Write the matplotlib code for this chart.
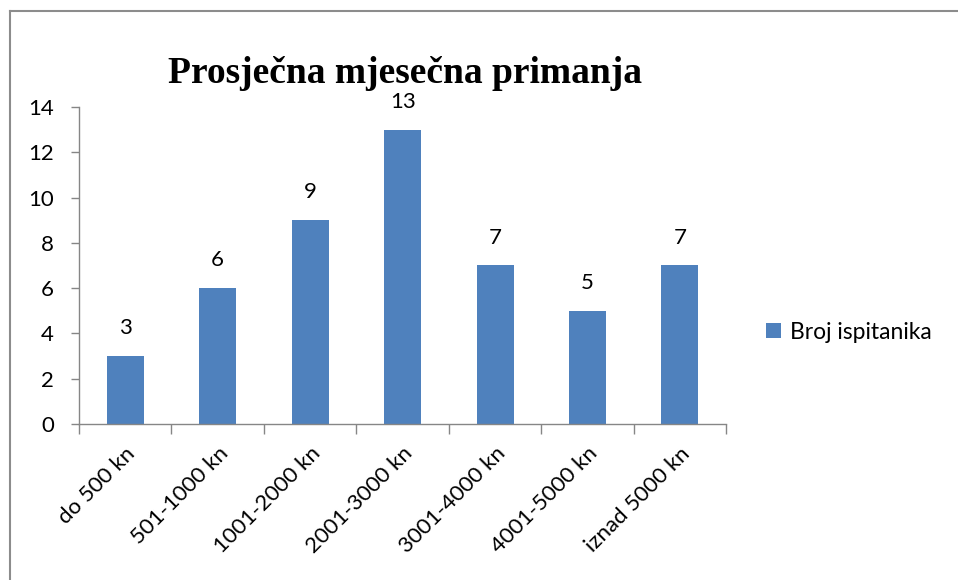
import matplotlib.pyplot as plt
from matplotlib.lines import Line2D

# Data
categories = ['do 500 kn', '501-1000 kn', '1001-2000 kn', '2001-3000 kn',
              '3001-4000 kn', '4001-5000 kn', 'iznad 5000 kn']
values = [3, 6, 9, 13, 7, 5, 7]
series_name = 'Broj ispitanika'
title = 'Prosječna mjesečna primanja'

bar_color = '#4F81BD'
axis_color = '#868686'
font = ['Lato', 'DejaVu Sans']

plt.rcParams['font.family'] = font

fig = plt.figure(figsize=(9.58, 5.8), dpi=100)
ax = fig.add_axes([0.0825, 0.269, 0.6755, 0.5465])

x = range(len(categories))
bars = ax.bar(x, values, width=0.4, color=bar_color, label=series_name, zorder=2)

# Value labels above the bars
for rect, v in zip(bars, values):
    ax.annotate(str(v), (rect.get_x() + rect.get_width() / 2, v),
                xytext=(0, 20), textcoords='offset points',
                ha='center', va='center', fontsize=16)

ax.set_xlim(-0.5, len(categories) - 0.5)
ax.set_ylim(0, 14)
ax.set_yticks(range(0, 15, 2))
ax.tick_params(axis='y', labelsize=16, length=6, width=1, color=axis_color, pad=12)

# Category labels centred, ticks at category boundaries
ax.set_xticks(list(x))
ax.set_xticklabels(categories, rotation=45, ha='right', rotation_mode='anchor', fontsize=16)
ax.tick_params(axis='x', which='major', length=0, pad=14)
ax.set_xticks([i - 0.5 for i in range(len(categories) + 1)], minor=True)
ax.tick_params(axis='x', which='minor', length=7, width=1, color=axis_color)

for side in ['top', 'right']:
    ax.spines[side].set_visible(False)
for side in ['left', 'bottom']:
    ax.spines[side].set_color(axis_color)
    ax.spines[side].set_linewidth(1)

fig.text(0.423, 0.874, title, family='Liberation Serif', fontweight='bold',
         fontsize=27, ha='center', va='center')

leg = fig.legend(loc='center left', bbox_to_anchor=(0.8, 0.427), frameon=False,
                 fontsize=16.5, handlelength=0.65, handleheight=0.65, handletextpad=0.4,
                 borderaxespad=0, borderpad=0)

# Chart area border (top and left edges visible)
fig.add_artist(Line2D([10 / 958, 1], [1 - 11 / 580, 1 - 11 / 580],
                      transform=fig.transFigure, color='#8c8c8c', lw=1.5))
fig.add_artist(Line2D([10 / 958, 10 / 958], [0, 1 - 11 / 580],
                      transform=fig.transFigure, color='#8c8c8c', lw=1.5))

fig.savefig('out.png', dpi=100)
